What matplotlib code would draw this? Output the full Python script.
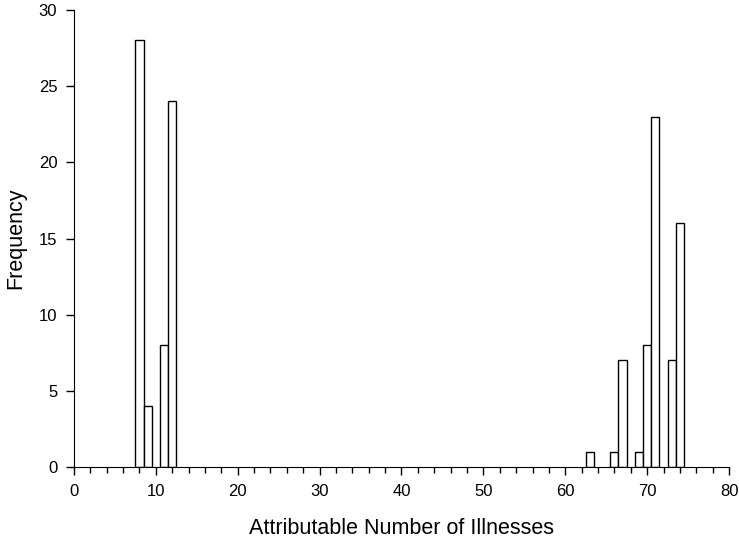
import matplotlib
matplotlib.use('Agg')
import matplotlib.pyplot as plt
from matplotlib.ticker import MultipleLocator

# counts per illness value
illnesses = [8, 9, 11, 12, 63, 66, 67, 69, 70, 71, 73, 74]
frequency = [28, 4, 8, 24, 1, 1, 7, 1, 8, 23, 7, 16]

plt.rcParams['font.family'] = ['Liberation Sans', 'DejaVu Sans']

fig = plt.figure(figsize=(7.39, 5.44), dpi=100)
ax = fig.add_axes([0.1001, 0.1415, 0.8864, 0.8401])

ax.bar(illnesses, frequency, width=1.0, color='white', edgecolor='black', linewidth=1.0)

ax.set_xlim(0, 80)
ax.set_ylim(0, 30)
ax.xaxis.set_major_locator(MultipleLocator(10))
ax.xaxis.set_minor_locator(MultipleLocator(2))
ax.yaxis.set_major_locator(MultipleLocator(5))

ax.spines['top'].set_visible(False)
ax.spines['right'].set_visible(False)
ax.tick_params(axis='both', which='major', direction='out', length=6, width=1, labelsize=12, pad=6)
ax.tick_params(axis='x', which='minor', direction='out', length=4, width=1)

ax.set_xlabel('Attributable Number of Illnesses', fontsize=15.5, labelpad=14)
ax.set_ylabel('Frequency', fontsize=15.5, labelpad=9)

fig.savefig('out.png', dpi=100)
